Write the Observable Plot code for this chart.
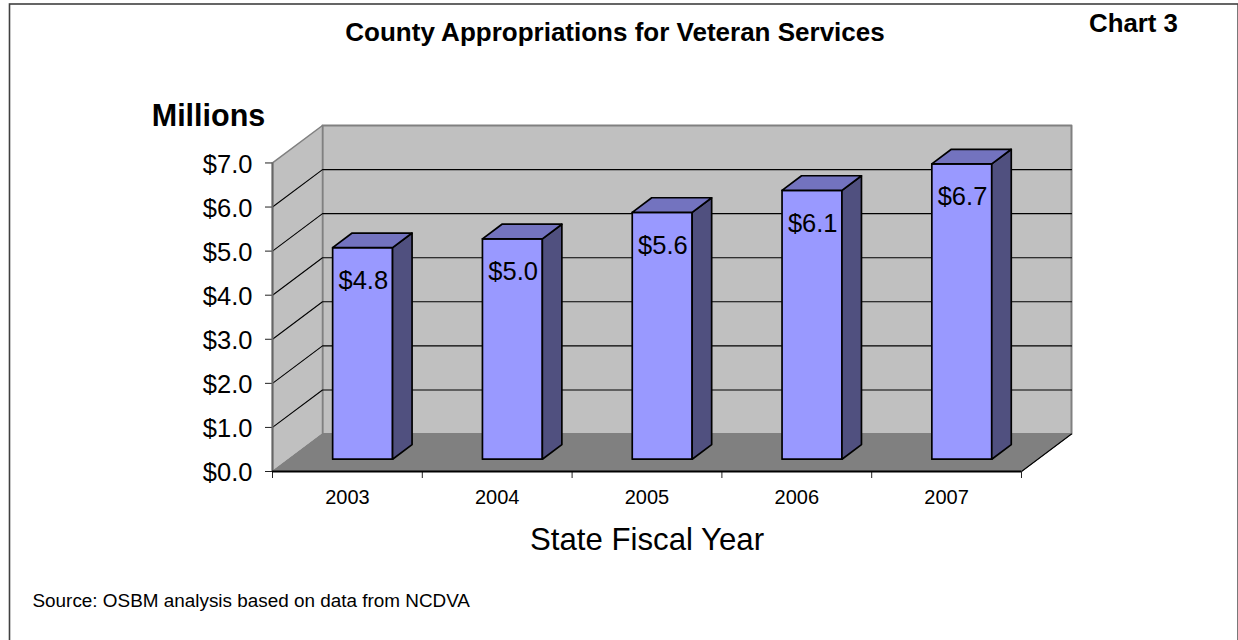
<!DOCTYPE html>
<html>
<head>
<meta charset="utf-8">
<style>
  html, body { margin: 0; padding: 0; background: #fff; }
</style>
<script src="https://cdn.jsdelivr.net/npm/d3@7"></script>
<script src="https://cdn.jsdelivr.net/npm/@observablehq/plot@0.6"></script>
</head>
<body>
<div id="chart"></div>
<script>
// County appropriations for veteran services, in millions of dollars
const years = ["2003", "2004", "2005", "2006", "2007"];
const appropriations = [4.8, 5.0, 5.6, 6.1, 6.7];
const yTicks = [0, 1, 2, 3, 4, 5, 6, 7];
const gridValues = [1, 2, 3, 4, 5, 6];

// Oblique projection of the floor depth, in scale units
const depthX = 0.3338;
const depthY = 0.85;
const barWidth = 0.4;
const barShift = -0.008; // sideways nudge of the bars within their band
const barNear = 0.328;   // how far back the bar front stands
const barDeep = 0.39;    // how much depth each bar occupies
const xMax = years.length;

// Positions a point at a given depth fraction (0 = front, 1 = back wall)
const pt = (x, y, t, id) => ({x: x + t * depthX, y: y + t * depthY, id});
const closed = (pts) => [...pts, pts[0]];

const bars = years.map((year, i) => {
  const x0 = i + (1 - barWidth) / 2 + barShift;
  return {year, value: appropriations[i], x0, x1: x0 + barWidth};
});
const t0 = barNear, t1 = barNear + barDeep;

const frontFaces = bars.flatMap((b) => closed([
  pt(b.x0, 0, t0, b.year), pt(b.x1, 0, t0, b.year),
  pt(b.x1, b.value, t0, b.year), pt(b.x0, b.value, t0, b.year)
]));
const sideFaces = bars.flatMap((b) => closed([
  pt(b.x1, 0, t0, b.year), pt(b.x1, 0, t1, b.year),
  pt(b.x1, b.value, t1, b.year), pt(b.x1, b.value, t0, b.year)
]));
const topFaces = bars.flatMap((b) => closed([
  pt(b.x0, b.value, t0, b.year), pt(b.x1, b.value, t0, b.year),
  pt(b.x1, b.value, t1, b.year), pt(b.x0, b.value, t1, b.year)
]));

const backWall = closed([pt(0, 0, 1), pt(xMax, 0, 1), pt(xMax, 7, 1), pt(0, 7, 1)]);
const sideWall = closed([pt(0, 0, 0), pt(0, 0, 1), pt(0, 7, 1), pt(0, 7, 0)]);
const floor = closed([pt(0, 0, 0), pt(xMax, 0, 0), pt(xMax, 0, 1), pt(0, 0, 1)]);
const floorRightEdge = [pt(xMax, 0, 0), pt(xMax, 0, 1)];
const gridLines = gridValues.flatMap((v) => [pt(0, v, 0, v), pt(0, v, 1, v), pt(xMax, v, 1, v)]);

const face = (data, fill, stroke, strokeWidth = 1.7) =>
  Plot.line(data, {x: "x", y: "y", z: "id", fill, stroke, strokeWidth, curve: "linear"});

const chart = Plot.plot({
  width: 1238,
  height: 640,
  marginLeft: 272,
  marginRight: 167,
  marginTop: 125,
  marginBottom: 169,
  style: {fontFamily: "'Liberation Sans', Arial, sans-serif", background: "#fff", color: "#000"},
  x: {domain: [0, xMax + depthX], axis: null},
  y: {domain: [0, 7 + depthY], axis: null},
  marks: [
    // outer border of the chart area
    Plot.frame({stroke: "#404040", strokeWidth: 1.6, insetLeft: -263, insetTop: -121.5, insetRight: -166.6, insetBottom: -180}),

    // walls and floor
    face(backWall, "#C0C0C0", "#808080", 2),
    face(sideWall, "#C0C0C0", "#808080", 1.5),
    face(floor, "#808080", "#808080", 1),
    face(gridLines, "none", "#000", 1.1),
    face(floorRightEdge, "none", "#000", 1.1),

    // axes: tick strokes and tick labels are separate so the labels can sit a little low
    Plot.axisY({
      ticks: yTicks,
      tickFormat: () => "",
      tickSize: 7,
      stroke: "#222",
      label: null
    }),
    Plot.axisY({
      ticks: yTicks,
      tickFormat: (d) => `$${d.toFixed(1)}`,
      tickSize: 0,
      tickPadding: 20,
      dy: 1.5,
      fontSize: 25.5,
      label: null
    }),
    Plot.ruleX([0], {y1: 0, y2: 7, stroke: "#666", strokeWidth: 2}),
    Plot.axisX({
      ticks: d3.range(xMax + 1),
      tickFormat: () => "",
      tickSize: 7,
      stroke: "#222",
      label: null
    }),
    Plot.axisX({
      ticks: years.map((_, i) => i + 0.5),
      tickFormat: (d) => years[Math.floor(d)],
      tickSize: 0,
      tickPadding: 18,
      fontSize: 20,
      label: null
    }),
    Plot.ruleY([0], {x1: 0, x2: xMax, stroke: "#000", strokeWidth: 1.8}),

    // bars
    face(frontFaces, "#9999FF", "#000"),
    face(sideFaces, "#50507F", "#000"),
    face(topFaces, "#7373BF", "#000"),

    // value labels
    Plot.text(bars, {
      x: (b) => (b.x0 + b.x1) / 2 + t0 * depthX,
      y: (b) => b.value + t0 * depthY,
      text: (b) => `$${b.value.toFixed(1)}`,
      dx: 0.7,
      dy: 33,
      fontSize: 25.5,
      fill: "#000"
    }),

    // chart titles and notes
    Plot.text(["County Appropriations for Veteran Services"], {
      frameAnchor: "top-left", textAnchor: "middle", lineAnchor: "middle",
      dx: 342.5, dy: -93, fontSize: 26, fontWeight: "bold", fill: "#000"
    }),
    Plot.text(["Chart 3"], {
      frameAnchor: "top-left", textAnchor: "middle", lineAnchor: "middle",
      dx: 861, dy: -102, fontSize: 25.8, fontWeight: "bold", fill: "#000"
    }),
    Plot.text(["Millions"], {
      frameAnchor: "top-left", textAnchor: "middle", lineAnchor: "middle",
      dx: -64, dy: -9, fontSize: 30.5, fontWeight: "bold", fill: "#000"
    }),
    Plot.text(["State Fiscal Year"], {
      x: () => xMax / 2, frameAnchor: "bottom", textAnchor: "middle", lineAnchor: "middle",
      dy: 69, fontSize: 31.2, fill: "#000"
    }),
    Plot.text(["Source: OSBM analysis based on data from NCDVA"], {
      frameAnchor: "top-left", textAnchor: "start", lineAnchor: "middle",
      dx: -240, dy: 475, fontSize: 18.9, fill: "#000"
    })
  ]
});

document.getElementById("chart").appendChild(chart);
</script>
</body>
</html>
